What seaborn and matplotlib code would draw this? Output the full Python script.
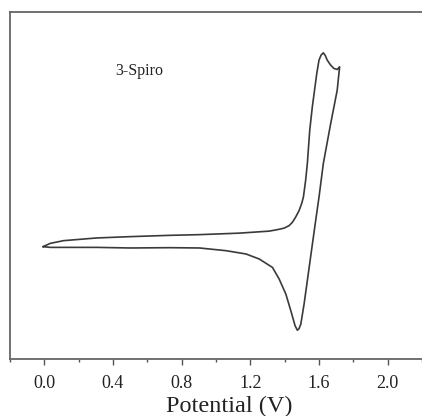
import matplotlib
matplotlib.use("Agg")
import matplotlib.pyplot as plt
import numpy as np
import pandas as pd
import seaborn as sns

# cyclic voltammogram of 3-Spiro (current in arbitrary units)
forward_v = [-0.008, 0.035, 0.112, 0.306, 0.499, 0.730, 0.904, 1.136, 1.310, 1.358,
             1.397, 1.426, 1.445, 1.464, 1.484, 1.499, 1.509, 1.522, 1.532, 1.546,
             1.561, 1.574, 1.587, 1.600, 1.612, 1.625, 1.637, 1.648, 1.668, 1.687,
             1.706, 1.720]
forward_i = [1.0, 4.3, 7.0, 9.7, 11.0, 12.3, 13.0, 14.5, 16.5, 18.0,
             19.5, 22.0, 25.3, 30.5, 37.0, 44.0, 50.3, 67.0, 83.7, 117.0,
             140.3, 157.0, 173.7, 187.0, 192.0, 194.3, 191.5, 187.0, 182.0, 178.7,
             177.7, 180.3]
reverse_v = [1.719, 1.716, 1.706, 1.687, 1.668, 1.650, 1.625, 1.600, 1.583,
             1.567, 1.540, 1.513, 1.494, 1.483, 1.474, 1.461, 1.436, 1.407, 1.368,
             1.329, 1.252, 1.175, 1.059, 0.904, 0.730, 0.499, 0.306, 0.035, -0.008]
reverse_i = [178.0, 173.7, 157.0, 140.3, 123.7, 107.0, 83.7, 50.3, 30.0,
             10.3, -23.0, -56.3, -76.3, -81.0, -82.3, -78.0, -63.0, -46.3, -31.3,
             -19.7, -11.3, -6.3, -3.0, -0.3, 0.0, -0.3, 0.3, 0.3, 1.0]

xticks = [0.0, 0.4, 0.8, 1.2, 1.6, 2.0]
xlabel = "Potential (V)"
label = "3-Spiro"

df = pd.DataFrame({
    "potential": forward_v + reverse_v,
    "current": forward_i + reverse_i,
})

sns.set_theme(style="ticks")
plt.rcParams["font.family"] = ["Liberation Serif", "DejaVu Serif"]

fig = plt.figure(figsize=(4.22, 4.16), dpi=100)
ax = fig.add_axes([10 / 422, (416 - 359) / 416, 412 / 422, (359 - 12) / 416])

sns.lineplot(data=df, x="potential", y="current", sort=False, estimator=None,
             color="#3a3a3a", linewidth=1.2, ax=ax)
ax.lines[0].set_solid_joinstyle("round")

ax.set_xlim(-0.197, 2.19)
ax.set_ylim(-111, 235)
ax.set_xticks(xticks)
ax.set_xticklabels([f"{t:.1f}" for t in xticks], fontsize=13, color="#222222")
ax.set_xticks(np.arange(-0.2, 2.21, 0.2), minor=True)
ax.tick_params(axis="x", which="major", direction="out", length=4.5, width=1.0,
               color="#555555", pad=7)
ax.tick_params(axis="x", which="minor", direction="out", length=2.5, width=1.0,
               color="#555555")
ax.set_yticks([])
ax.set_xlabel(xlabel, fontsize=17.5, color="#222222")
ax.xaxis.set_label_coords((229 - 10) / 412, (359 - 396) / 347)
ax.set_ylabel("")

for side in ["left", "top", "bottom"]:
    ax.spines[side].set_color("#666666")
    ax.spines[side].set_linewidth(1.3)
ax.spines["right"].set_visible(False)

ax.text((115 - 10) / 412, (359 - 75) / 347, label, transform=ax.transAxes,
        fontsize=11.5, color="#222222", va="baseline", ha="left")

fig.savefig("out.png", dpi=100)
